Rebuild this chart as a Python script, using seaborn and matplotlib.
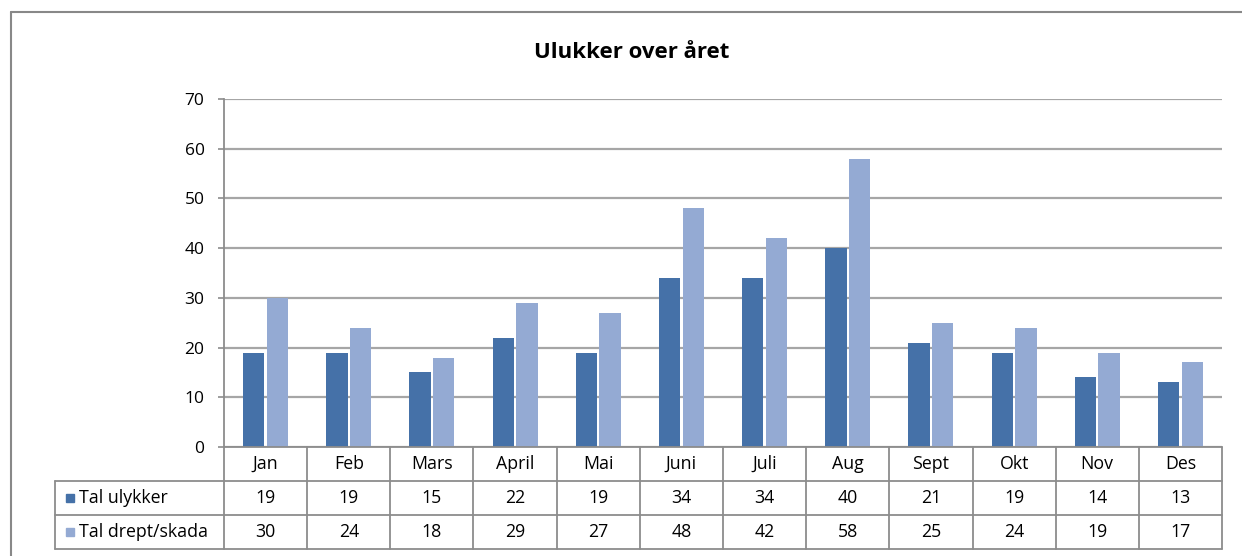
import matplotlib
matplotlib.use("Agg")
import matplotlib.pyplot as plt
import seaborn as sns
import pandas as pd
from matplotlib.transforms import blended_transform_factory
from matplotlib.lines import Line2D

months = ["Jan", "Feb", "Mars", "April", "Mai", "Juni", "Juli", "Aug", "Sept", "Okt", "Nov", "Des"]
ulykker = [19, 19, 15, 22, 19, 34, 34, 40, 21, 19, 14, 13]
drept = [30, 24, 18, 29, 27, 48, 42, 58, 25, 24, 19, 17]
series_names = ["Tal ulykker", "Tal drept/skada"]
colors = ["#4571A8", "#94AAD3"]
title = "Ulukker over året"
yticks = [0, 10, 20, 30, 40, 50, 60, 70]

sns.set_style("white")
plt.rcParams['font.family'] = ['Open Sans', 'DejaVu Sans']
plt.rcParams['text.color'] = 'black'

df = pd.DataFrame({
    "Månad": months * 2,
    "Verdi": ulykker + drept,
    "Serie": [series_names[0]] * len(months) + [series_names[1]] * len(months),
})

W, H = 1242, 556
fig = plt.figure(figsize=(W / 100, H / 100), dpi=100)
L, R, T, B = 224, 1222, 99, 447
ax = fig.add_axes([L / W, 1 - B / H, (R - L) / W, (B - T) / H])

sns.barplot(data=df, x="Månad", y="Verdi", hue="Serie", palette=colors,
            width=0.57, gap=0.1, ax=ax, legend=False, linewidth=0, saturation=1)

ax.set_ylim(0, 70)
ax.set_xlim(-0.5, len(months) - 0.5)
ax.set_yticks(yticks)
ax.set_xticks([])
ax.set_xlabel("")
ax.set_ylabel("")
ax.grid(axis="y", color="#A6A6A6", lw=1.6)
ax.set_axisbelow(True)
for s in ["top", "right", "bottom"]:
    ax.spines[s].set_visible(False)
ax.spines["left"].set_color("#8C8C8C")
ax.spines["left"].set_linewidth(1.3)
ax.tick_params(axis="y", direction="out", length=4, width=1.2, color="#8C8C8C",
               pad=10, labelsize=12.5, labelcolor="#000000", left=True)

def fy(py):
    return 1 - py / H

lc = "#8C8C8C"
lw = 1.3
fs = 12.8
bt = blended_transform_factory(ax.transData, fig.transFigure)

# table horizontal lines
fig.add_artist(Line2D([L / W, R / W], [fy(B), fy(B)], color=lc, lw=lw, transform=fig.transFigure))
for py in [481, 515, 549]:
    fig.add_artist(Line2D([55 / W, R / W], [fy(py), fy(py)], color=lc, lw=lw, transform=fig.transFigure))
fig.add_artist(Line2D([55 / W, 55 / W], [fy(481), fy(549)], color=lc, lw=lw, transform=fig.transFigure))
# table vertical lines
for i in range(len(months) + 1):
    fig.add_artist(Line2D([i - 0.5, i - 0.5], [fy(B), fy(549)], color=lc, lw=lw, transform=bt))

# month labels and values
row_centers = [464, 498, 532]
for i, m in enumerate(months):
    fig.text(i, fy(row_centers[0]), m, transform=bt, ha="center", va="center", fontsize=fs)
    fig.text(i, fy(row_centers[1]), str(ulykker[i]), transform=bt, ha="center", va="center", fontsize=fs)
    fig.text(i, fy(row_centers[2]), str(drept[i]), transform=bt, ha="center", va="center", fontsize=fs)

# legend keys in table
for name, col, yc in zip(series_names, colors, row_centers[1:]):
    fig.add_artist(Line2D([70 / W], [fy(yc)], marker="s", markersize=6, color=col,
                          linestyle="none", transform=fig.transFigure))
    fig.text(79 / W, fy(yc), name, ha="left", va="center", fontsize=fs)

# outer chart border
fig.add_artist(Line2D([11 / W, 11 / W], [fy(12), 0], color="#888888", lw=1.5, transform=fig.transFigure))
fig.add_artist(Line2D([11 / W, 1], [fy(12), fy(12)], color="#888888", lw=1.5, transform=fig.transFigure))

fig.text(632 / W, fy(52), title, ha="center", va="center", fontsize=16, fontweight="bold")

fig.savefig("out.png", dpi=100)
